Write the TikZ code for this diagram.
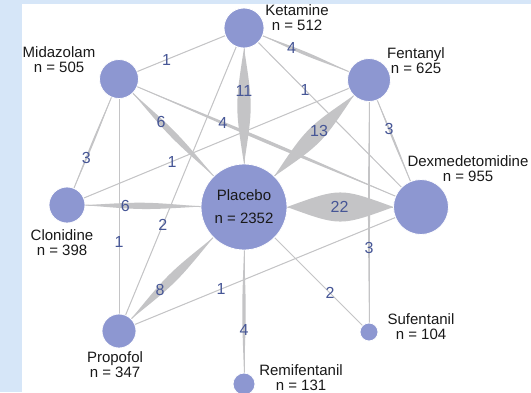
\documentclass[tikz,border=0pt]{standalone}
\usepackage{fontspec}
\setmainfont{Liberation Sans}
\usetikzlibrary{calc,backgrounds}
\definecolor{drugblue}{RGB}{141,151,209}
\definecolor{edgegray}{RGB}{196,196,198}
\definecolor{numblue}{RGB}{70,86,150}
\definecolor{frameblue}{RGB}{214,230,248}

\begin{document}
\begin{tikzpicture}[x=1pt, y=-1pt,
    drug/.style={circle, fill=drugblue, draw=white, line width=.8pt, inner sep=0pt, outer sep=0pt, minimum size=#1},
    druglabel/.style={align=center, font=\fontsize{15}{15}\selectfont, text=black!90, inner sep=0pt},
    trials/.style={font=\fontsize{16}{16}\selectfont, text=numblue, inner sep=0pt}]

    \useasboundingbox (0,0) rectangle (531,392);

    % drugs
    \node [drug=40pt] (ket) at (244,28) {};
    \node [drug=43pt] (fen) at (369,80) {};
    \node [drug=39pt] (mid) at (119,79) {};
    \node [drug=36pt] (clo) at (67,205) {};
    \node [drug=86pt, druglabel] (pla) at (244,207) {Placebo\\[8pt]n = 2352};
    \node [drug=55pt] (dex) at (421,207) {};
    \node [drug=34pt] (pro) at (119,331) {};
    \node [drug=18pt] (suf) at (369,332) {};
    \node [drug=22pt] (rem) at (244,384) {};

    \node [druglabel] (ketname) at (297,18) {Ketamine\\n = 512};
    \node [druglabel] (fenname) at (416,61) {Fentanyl\\n = 625};
    \node [druglabel] (midname) at (59,60) {Midazolam\\n = 505};
    \node [druglabel] (cloname) at (62,243) {Clonidine\\n = 398};
    \node [druglabel] (dexname) at (468,169) {Dexmedetomidine\\n = 955};
    \node [druglabel] (proname) at (115,365) {Propofol\\n = 347};
    \node [druglabel] (sufname) at (421,327) {Sufentanil\\n = 104};
    \node [druglabel] (remname) at (301,378) {Remifentanil\\n = 131};

    % comparisons
    \begin{scope}[on background layer]
        \fill [frameblue] (0,0) rectangle (531,392);
        \fill [white] (22,4) rectangle (531,392);
        \foreach \a/\b/\n in {ket/mid/1, ket/fen/4, ket/pla/11, ket/dex/1, ket/pro/2,
            mid/pla/6, mid/dex/4, mid/clo/3, mid/pro/1, clo/fen/1, clo/pla/6,
            fen/pla/13, fen/dex/3, fen/suf/3, pla/dex/22, pla/pro/8, pro/dex/1,
            pla/suf/2, pla/rem/4} {
            \pgfmathsetmacro\off{max(0,0.95*\n-1.5)}
            \path (\a) -- (\b) coordinate [pos=0] (e1) coordinate [pos=1] (e2);
            \draw [edgegray, line width=1pt] (e1) -- (e2);
            \fill [edgegray] (e1) .. controls ($(e1)!.5!(e2)!\off pt!90:(e2)$) .. (e2)
                .. controls ($(e1)!.5!(e2)!\off pt!-90:(e2)$) .. (e1);
        }
    \end{scope}

    \foreach \a/\b/\n/\t in {ket/mid/1/.62, ket/fen/4/.38, ket/pla/11/.35, ket/dex/1/.345,
        ket/pro/2/.65, mid/pla/6/.336, mid/dex/4/.344, mid/clo/3/.63, mid/pro/1/.645,
        clo/fen/1/.348, clo/pla/6/.33, fen/pla/13/.4, fen/dex/3/.385, fen/suf/3/.667,
        pla/dex/22/.54, pla/pro/8/.672, pro/dex/1/.338, pla/suf/2/.688, pla/rem/4/.695}
        \path (\a.center) -- (\b.center) node [trials, pos=\t] {\n};

\end{tikzpicture}
\end{document}
